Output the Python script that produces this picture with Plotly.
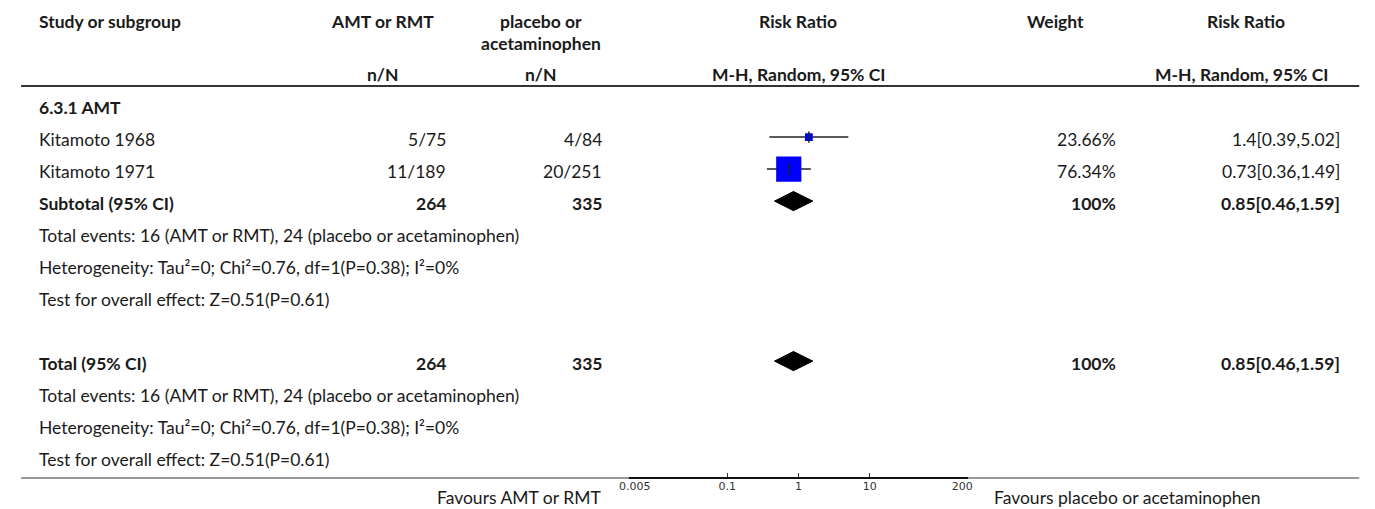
import math
import plotly.graph_objects as go

# ---------------- data ----------------
studies = ["Kitamoto 1968", "Kitamoto 1971"]
amt_nN = ["5/75", "11/189"]
pla_nN = ["4/84", "20/251"]
rr = [1.4, 0.73]
rr_lo = [0.39, 0.36]
rr_hi = [5.02, 1.49]
weights = [23.66, 76.34]
rr_text = ["1.4[0.39,5.02]", "0.73[0.36,1.49]"]
weight_text = ["23.66%", "76.34%"]

pooled_rr = 0.85
pooled_lo = 0.46
pooled_hi = 1.59
pooled_text = "0.85[0.46,1.59]"
amt_total = "264"
pla_total = "335"

tick_vals = [0.005, 0.1, 1, 10, 200]
tick_text = ["0.005", "0.1", "1", "10", "200"]

row_labels = [
    ("6.3.1 AMT", True),
    ("Kitamoto 1968", False),
    ("Kitamoto 1971", False),
    ("Subtotal (95% CI)", True),
    ("Total events: 16 (AMT or RMT), 24 (placebo or acetaminophen)", False),
    ("Heterogeneity: Tau\u00b2=0; Chi\u00b2=0.76, df=1(P=0.38); I\u00b2=0%", False),
    ("Test for overall effect: Z=0.51(P=0.61)", False),
    ("", False),
    ("Total (95% CI)", True),
    ("Total events: 16 (AMT or RMT), 24 (placebo or acetaminophen)", False),
    ("Heterogeneity: Tau\u00b2=0; Chi\u00b2=0.76, df=1(P=0.38); I\u00b2=0%", False),
    ("Test for overall effect: Z=0.51(P=0.61)", False),
]
study_rows = [1, 2]
pooled_rows = [3, 8]

# ---------------- layout helpers ----------------
W, H = 1375, 509
OFF = 8          # page body margin offset
FONT = "Source Sans Pro, Lato, sans-serif"
FS = 17.5
TXT = "#1a1a1a"

def px(x):
    return (x - OFF) / W

def py(y):
    return 1 - (y - OFF) / H

ROW0 = 107      # page y of first row
ROWH = 32       # pixels per row
AXIS_Y = 478    # page y of the x axis

fig = go.Figure()

# CI lines
ci_x, ci_y = [], []
for r, lo, hi in zip(study_rows, rr_lo, rr_hi):
    ci_x += [lo, hi, None]
    ci_y += [r - 0.06, r - 0.06, None]
fig.add_trace(go.Scatter(x=ci_x, y=ci_y, mode="lines",
                         line=dict(color="#222", width=1.5),
                         hoverinfo="skip", showlegend=False))

# weighted squares
fig.add_trace(go.Scatter(x=rr, y=[r - 0.06 for r in study_rows], mode="markers",
                         marker=dict(symbol="square", color="#0000ff", opacity=1,
                                     size=[w * 0.33 for w in weights],
                                     line=dict(width=0)),
                         showlegend=False))
# point-estimate ticks
fig.add_trace(go.Scatter(x=rr, y=[r - 0.06 for r in study_rows], mode="markers",
                         marker=dict(symbol="line-ns", size=8,
                                     line=dict(color="#222", width=1.5)),
                         showlegend=False, hoverinfo="skip"))

# diamonds
for r in pooled_rows:
    fig.add_trace(go.Scatter(
        x=[pooled_lo, pooled_rr, pooled_hi, pooled_rr, pooled_lo],
        y=[r - 0.06, r - 0.36, r - 0.06, r + 0.24, r - 0.06],
        mode="lines", fill="toself", fillcolor="#000",
        line=dict(color="#000", width=1), showlegend=False,
        hoverinfo="skip"))

ann = []

def add(text, x, y, anchor, bold=False, size=FS, yref="y", font=FONT, color=TXT):
    ann.append(dict(text=("<b>%s</b>" % text) if bold else text,
                    x=px(x), y=y, xref="paper", yref=yref,
                    xanchor=anchor, yanchor="middle", showarrow=False,
                    font=dict(family=font, size=size, color=color)))

# headers
add("Study or subgroup", 21, py(21), "left", True, yref="paper")
add("AMT or RMT", 374, py(21), "center", True, yref="paper")
add("placebo or", 535, py(21), "center", True, yref="paper")
add("acetaminophen", 535, py(43), "center", True, yref="paper")
add("Risk Ratio", 798, py(21), "center", True, yref="paper")
add("Weight", 1060, py(21), "center", True, yref="paper")
add("Risk Ratio", 1254, py(21), "center", True, yref="paper")
add("n/N", 374, py(75), "center", True, yref="paper")
add("n/N", 535, py(75), "center", True, yref="paper")
add("M-H, Random, 95% CI", 798, py(75), "center", True, yref="paper")
add("M-H, Random, 95% CI", 1250, py(75), "center", True, yref="paper")

# row labels
for i, (lab, b) in enumerate(row_labels):
    if lab:
        add(lab, 21, i, "left", b)

for r, a, p, w, t in zip(study_rows, amt_nN, pla_nN, weight_text, rr_text):
    add(a, 440, r, "right")
    add(p, 600, r, "right")
    add(w, 1124, r, "right")
    add(t, 1352, r, "right")

for r in pooled_rows:
    add(amt_total, 440, r, "right", True)
    add(pla_total, 600, r, "right", True)
    add("100%", 1124, r, "right", True)
    add(pooled_text, 1352, r, "right", True)

add("Favours AMT or RMT", 599, py(497), "right", yref="paper")
add("Favours placebo or acetaminophen", 995, py(497), "left", yref="paper")

shapes = [
    dict(type="line", xref="paper", yref="paper", x0=px(5), x1=px(1370),
         y0=py(86), y1=py(86), line=dict(color="#333", width=2)),
    dict(type="line", xref="paper", yref="paper", x0=px(5), x1=px(1370),
         y0=py(AXIS_Y), y1=py(AXIS_Y), line=dict(color="#333", width=1)),
    dict(type="line", xref="paper", yref="paper", x0=px(625), x1=px(971),
         y0=py(AXIS_Y), y1=py(AXIS_Y), line=dict(color="#111", width=2)),
    dict(type="line", xref="x", yref="paper", x0=0, x1=0,
         y0=py(AXIS_Y), y1=py(88), line=dict(color="#999", width=1.5),
         layer="below"),
]

top_val = -(ROW0 - OFF) / ROWH
bot_val = top_val + (AXIS_Y - OFF) / ROWH

fig.update_layout(
    width=W, height=H,
    margin=dict(l=0, r=0, t=0, b=0),
    paper_bgcolor="white", plot_bgcolor="white",
    showlegend=False,
    annotations=ann, shapes=shapes,
    xaxis=dict(type="log", domain=[px(631), px(965)],
               range=[math.log10(tick_vals[0]), math.log10(tick_vals[-1])],
               tickvals=tick_vals, ticktext=tick_text,
               ticks="inside", ticklen=5, tickwidth=1, tickcolor="#333",
               showline=False,
               showgrid=False, zeroline=False,
               tickfont=dict(family="DejaVu Sans", size=11, color="#333"),
               fixedrange=True),
    yaxis=dict(domain=[py(AXIS_Y), 1], range=[bot_val, top_val],
               visible=False, showgrid=False, zeroline=False, fixedrange=True),
)

fig.write_html("out.html")
